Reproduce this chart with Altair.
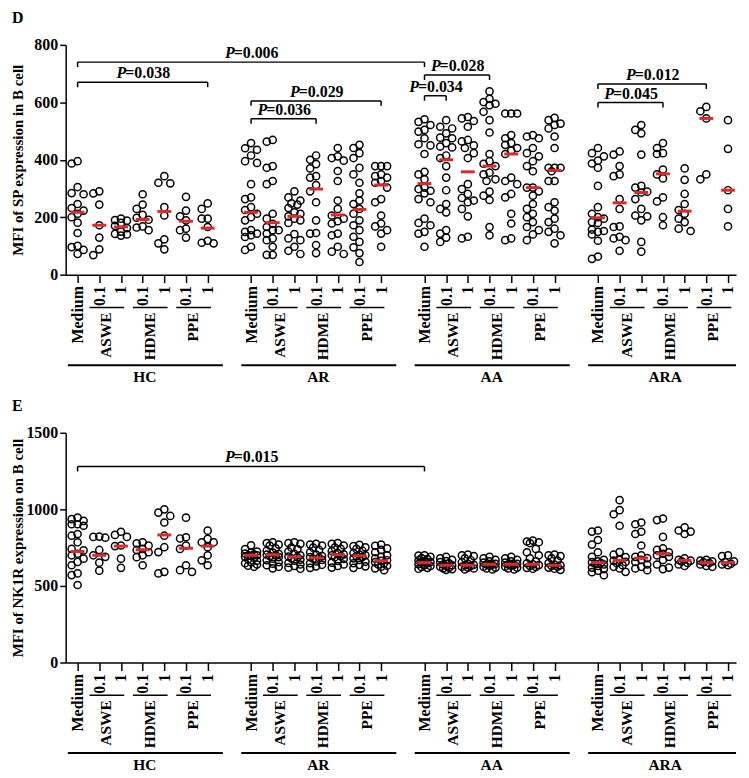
import altair as alt
import pandas as pd

GROUPS = ["HC", "AR", "AA", "ARA"]
COLUMN_LABELS = ["Medium", "0.1", "1", "0.1", "1", "0.1", "1"]
AGENTS = ["ASWE", "HDME", "PPE"]

# ---------------- Panel D: MFI of SP expression in B cell ----------------
sp_HC = [
    [395, 387, 305, 284, 280, 246, 232, 223, 212, 200, 181, 145, 100, 96, 86, 72],
    [290, 283, 244, 172, 129, 88, 68],
    [195, 190, 188, 180, 170, 162, 150, 142, 140, 136],
    [280, 244, 229, 208, 198, 191, 168, 164, 155],
    [343, 320, 318, 235, 206, 123, 109, 88],
    [271, 223, 203, 189, 160, 155, 129],
    [248, 229, 195, 195, 166, 118, 111, 109],
]
sp_AR = [
    [458, 440, 435, 415, 395, 389, 315, 269, 263, 235, 225, 212, 200, 189, 155, 149, 143, 137, 131, 97, 86],
    [469, 463, 378, 372, 326, 315, 212, 195, 177, 166, 155, 155, 143, 126, 120, 97, 69, 69],
    [290, 269, 258, 248, 244, 232, 217, 212, 203, 195, 189, 180, 141, 126, 120, 97, 83, 72],
    [415, 400, 385, 370, 343, 338, 312, 290, 252, 189, 145, 143, 103, 75],
    [441, 412, 406, 397, 361, 326, 258, 229, 206, 195, 186, 178, 143, 137, 97, 80, 72],
    [452, 441, 423, 406, 372, 349, 320, 283, 258, 246, 229, 212, 189, 172, 155, 132, 114, 95, 75, 44],
    [378, 378, 378, 349, 343, 338, 326, 320, 303, 263, 252, 206, 178, 168, 155, 143, 97],
]
sp_AA = [
    [541, 532, 521, 504, 498, 475, 454, 450, 420, 358, 349, 332, 303, 298, 292, 283, 263, 252, 195, 180, 172, 149, 143, 97],
    [538, 515, 509, 492, 477, 475, 458, 446, 443, 415, 406, 378, 338, 294, 246, 229, 217, 155, 143, 129, 114],
    [549, 544, 535, 515, 469, 464, 450, 441, 423, 406, 315, 298, 281, 267, 258, 252, 229, 203, 132, 126],
    [638, 612, 601, 595, 590, 567, 538, 495, 420, 395, 386, 378, 355, 349, 332, 326, 289, 275, 260, 166, 137],
    [561, 561, 561, 486, 475, 458, 452, 441, 432, 420, 338, 326, 315, 281, 269, 212, 178, 126, 120],
    [486, 481, 475, 441, 423, 412, 395, 378, 360, 303, 303, 290, 275, 246, 229, 212, 200, 183, 166, 155, 140, 120],
    [546, 538, 526, 521, 509, 481, 441, 372, 372, 372, 360, 326, 326, 252, 235, 223, 195, 183, 160, 149, 137, 109],
]
sp_ARA = [
    [441, 423, 412, 397, 387, 372, 309, 235, 212, 200, 195, 183, 180, 157, 152, 149, 140, 118, 63, 55],
    [429, 418, 378, 349, 343, 263, 229, 168, 166, 132, 126, 120, 83],
    [521, 504, 492, 418, 309, 303, 289, 286, 263, 229, 206, 203, 189, 114, 80],
    [458, 441, 423, 420, 366, 349, 335, 269, 255, 200, 172],
    [370, 330, 281, 246, 225, 212, 195, 183, 160, 152],
    [584, 569, 544, 349, 332],
    [538, 438, 294, 229, 168],
]
sp_median_HC = [217, 172, 166, 192, 220, 186, 162]
sp_median_AR = [217, 181, 203, 298, 208, 227, 312]
sp_median_AA = [317, 400, 358, 378, 420, 303, 363]
sp_median_ARA = [198, 250, 286, 351, 221, 544, 294]

# brackets: (from column index, to column index, height, P value)
sp_brackets = [
    (0, 16, 740, "0.006"),
    (0, 6, 670, "0.038"),
    (8, 14, 605, "0.029"),
    (8, 11, 543, "0.036"),
    (16, 19, 695, "0.028"),
    (16, 17, 623, "0.034"),
    (24, 29, 664, "0.012"),
    (24, 27, 599, "0.045"),
]

# ---------------- Panel E: MFI of NK1R expression on B cell ----------------
nk_HC = [
    [946, 936, 925, 903, 903, 893, 839, 828, 785, 742, 732, 710, 700, 678, 657, 635, 582, 571, 506],
    [822, 820, 815, 735, 700, 690, 652, 600],
    [854, 833, 820, 764, 760, 678, 618],
    [785, 778, 764, 742, 735, 720, 700, 688, 635],
    [1000, 979, 957, 914, 828, 753, 721, 592, 582],
    [946, 818, 810, 764, 742, 635, 603, 592],
    [861, 807, 785, 785, 753, 700, 667, 635],
]
nk_AR = [
    [765, 740, 725, 718, 712, 706, 700, 700, 696, 690, 684, 675, 665, 655, 648, 640, 632, 625],
    [785, 780, 770, 764, 745, 730, 718, 710, 704, 700, 695, 688, 678, 668, 655, 645, 635, 625, 615],
    [785, 780, 775, 750, 740, 725, 710, 700, 692, 688, 680, 672, 665, 650, 640, 630, 620, 612],
    [775, 770, 764, 750, 735, 720, 705, 695, 688, 683, 678, 670, 660, 648, 638, 628, 618],
    [780, 775, 764, 750, 742, 728, 715, 706, 700, 695, 688, 676, 664, 652, 640, 630, 620],
    [768, 760, 752, 742, 730, 715, 705, 700, 695, 690, 680, 670, 658, 648, 638, 628, 618],
    [770, 762, 745, 735, 720, 700, 690, 680, 668, 664, 655, 648, 640, 632, 625, 615, 603],
]
nk_AA = [
    [700, 698, 690, 682, 675, 668, 662, 656, 652, 648, 642, 636, 630, 624, 618, 612],
    [690, 680, 670, 662, 655, 648, 640, 635, 630, 625, 620, 615, 610, 605],
    [705, 700, 695, 680, 668, 655, 645, 638, 635, 630, 625, 620, 614, 608],
    [690, 680, 670, 660, 652, 645, 641, 638, 632, 626, 620, 614, 608],
    [690, 680, 670, 660, 652, 645, 641, 638, 632, 626, 620, 614, 608],
    [796, 790, 785, 780, 742, 720, 700, 680, 660, 648, 641, 636, 630, 624, 618, 612],
    [705, 700, 695, 680, 665, 650, 640, 635, 630, 625, 620, 612, 605],
]
nk_ARA = [
    [862, 855, 800, 770, 720, 690, 670, 660, 655, 650, 645, 640, 630, 620, 610, 600, 590, 570],
    [1060, 995, 968, 893, 721, 704, 689, 670, 665, 657, 650, 635, 625, 614, 592],
    [914, 903, 854, 839, 764, 700, 690, 682, 670, 657, 640, 625, 614, 603],
    [940, 930, 820, 745, 735, 720, 710, 700, 690, 670, 640, 620, 610],
    [882, 862, 855, 839, 680, 670, 665, 660, 650, 640, 630],
    [670, 665, 660, 655, 650, 640, 630, 625],
    [700, 695, 660, 655, 645, 640, 635],
]
nk_median_HC = [725, 700, 760, 736, 833, 746, 760]
nk_median_AR = [700, 704, 690, 683, 704, 697, 664]
nk_median_AA = [652, 635, 635, 641, 641, 641, 635]
nk_median_ARA = [652, 667, 682, 710, 667, 652, 652]

nk_brackets = [
    (0, 16, 1280, "0.015"),
]

# ---------------- layout ----------------
W = 674
H = 231
X_DOMAIN = [-0.55, 30.37]
PX_X = W / (X_DOMAIN[1] - X_DOMAIN[0])
RED = "#dc2a2a"
FONT = "Liberation Serif"
FS = 16
POSITIONS = [g * 8 + c for g in range(4) for c in range(7)]


def swarm(vals, ppy, r=6.8):
    """Prism-like horizontal spreading of overlapping circles (pixels)."""
    cands = [0, -6, 6, -3, 3]
    placed = []
    res = [0.0] * len(vals)
    order = sorted(range(len(vals)), key=lambda i: -vals[i])
    for i in order:
        y = vals[i] * ppy
        best, bestd = 0, -1
        for c in cands:
            d = min([((c - px) ** 2 + (y - py) ** 2) ** 0.5 for px, py in placed], default=99)
            if d >= r:
                best = c
                break
            if d > bestd:
                bestd, best = d, c
        placed.append((best, y))
        res[i] = best
    return res


def panel(groups_vals, groups_meds, ymax, yticks, ytitle, brackets, letter, title_pad):
    ppy = H / ymax
    rows, mrows = [], []
    for g, (vals_list, meds) in enumerate(zip(groups_vals, groups_meds)):
        for c, vals in enumerate(vals_list):
            pos = g * 8 + c
            for v, o in zip(vals, swarm(vals, ppy)):
                rows.append({"x": pos + o / PX_X, "v": v})
            mrows.append({"xa": pos - 0.32, "xb": pos + 0.32, "m": meds[c]})
    pts = pd.DataFrame(rows)
    meds_df = pd.DataFrame(mrows)

    xs = alt.Scale(domain=X_DOMAIN, nice=False, zero=False)
    ys = alt.Scale(domain=[0, ymax], nice=False)

    xaxis = alt.Axis(
        values=POSITIONS,
        labelExpr="['Medium','0.1','1','0.1','1','0.1','1'][datum.value % 8]",
        labelAngle=270, labelAlign="right", labelBaseline="middle",
        tickSize=8, labelPadding=3, title=None, grid=False,
        labelOverlap=False, labelFlush=False,
    )
    yaxis = alt.Axis(values=yticks, format="d", title=ytitle, tickSize=6,
                     labelPadding=2, titlePadding=title_pad, grid=False)

    def X(f):
        return alt.X(f, scale=xs, axis=xaxis)

    def Y(f):
        return alt.Y(f, scale=ys, axis=yaxis)

    base_pts = alt.Chart(pts).mark_point(
        shape="circle", filled=False, stroke="black", strokeWidth=1.5,
        size=52, opacity=1
    ).encode(x=X("x:Q"), y=Y("v:Q"))
    med = alt.Chart(meds_df).mark_rule(color=RED, strokeWidth=3).encode(
        x=X("xa:Q"), x2="xb:Q", y=Y("m:Q"))

    tick = 5 / ppy
    bdf = pd.DataFrame([
        {"x1": a, "x2": b, "y": h, "yt": h - tick, "xc": (a + b) / 2, "lab": "=" + p}
        for a, b, h, p in brackets
    ])
    bh = alt.Chart(bdf).mark_rule(color="black", strokeWidth=1.5).encode(
        x=X("x1:Q"), x2="x2:Q", y=Y("y:Q"))
    bl = alt.Chart(bdf).mark_rule(color="black", strokeWidth=1.5).encode(
        x=X("x1:Q"), y=Y("y:Q"), y2="yt:Q")
    br = alt.Chart(bdf).mark_rule(color="black", strokeWidth=1.5).encode(
        x=X("x2:Q"), y=Y("y:Q"), y2="yt:Q")
    split = -17.5
    tp = alt.Chart(bdf).mark_text(
        text="P", font=FONT, fontSize=FS, fontWeight="bold", fontStyle="italic",
        align="right", baseline="alphabetic", dx=split + 1, dy=-4, color="black"
    ).encode(x=X("xc:Q"), y=Y("y:Q"))
    tv = alt.Chart(bdf).mark_text(
        font=FONT, fontSize=FS, fontWeight="bold",
        align="left", baseline="alphabetic", dx=split, dy=-4, color="black"
    ).encode(x=X("xc:Q"), y=Y("y:Q"), text="lab:N")

    # labels below the axis
    sub = pd.DataFrame([
        {"u1": g * 8 + 1 + 2 * t - 0.45, "u2": g * 8 + 2 + 2 * t + 0.15,
         "uc": g * 8 + 1 + 2 * t + 0.33, "agent": AGENTS[t]}
        for g in range(4) for t in range(3)
    ])
    grp = pd.DataFrame([
        {"g1": g * 8 - 0.45, "g2": min(g * 8 + 6.7, X_DOMAIN[1]),
         "gc": g * 8 + 3.1, "name": GROUPS[g]}
        for g in range(4)
    ])
    sub_line = alt.Chart(sub).mark_rule(color="black", strokeWidth=1.5).encode(
        x=X("u1:Q"), x2="u2:Q", y=alt.value(H + 33))
    sub_text = alt.Chart(sub).mark_text(
        font=FONT, fontSize=15.5, fontWeight="bold", angle=270,
        align="right", baseline="middle", color="black"
    ).encode(x=X("uc:Q"), y=alt.value(H + 38), text="agent:N")
    grp_line = alt.Chart(grp).mark_rule(color="black", strokeWidth=2).encode(
        x=X("g1:Q"), x2="g2:Q", y=alt.value(H + 91))
    grp_text = alt.Chart(grp).mark_text(
        font=FONT, fontSize=15.5, fontWeight="bold", align="center",
        baseline="middle", color="black"
    ).encode(x=X("gc:Q"), y=alt.value(H + 103), text="name:N")

    let = alt.Chart(pd.DataFrame({"t": [letter]})).mark_text(
        font=FONT, fontSize=16, fontWeight="bold", align="left", baseline="top",
        color="black"
    ).encode(x=alt.value(-54), y=alt.value(-35), text="t:N")

    return alt.layer(
        base_pts, med, bh, bl, br, tp, tv, sub_line, sub_text, grp_line, grp_text, let
    ).properties(width=W, height=H)


panel_d = panel([sp_HC, sp_AR, sp_AA, sp_ARA],
                [sp_median_HC, sp_median_AR, sp_median_AA, sp_median_ARA],
                800, [0, 200, 400, 600, 800], "MFI of SP expression in B cell",
                sp_brackets, "D", 8)
panel_e = panel([nk_HC, nk_AR, nk_AA, nk_ARA],
                [nk_median_HC, nk_median_AR, nk_median_AA, nk_median_ARA],
                1500, [0, 500, 1000, 1500], "MFI of NK1R expression on B cell",
                nk_brackets, "E", 0)

chart = alt.vconcat(panel_d, panel_e, spacing=159, bounds="flush").properties(
    padding={"left": 3, "top": 0, "right": 0, "bottom": 0}
).configure_view(strokeOpacity=0).configure_axis(
    domainColor="black", domainWidth=1.5, tickColor="black", tickWidth=1.5,
    labelFont=FONT, labelFontSize=FS, labelFontWeight="bold", labelColor="black",
    titleFont=FONT, titleFontSize=15, titleFontWeight="bold", titleColor="black",
)

chart.save("out.html", embed_options={"renderer": "svg", "actions": False})
